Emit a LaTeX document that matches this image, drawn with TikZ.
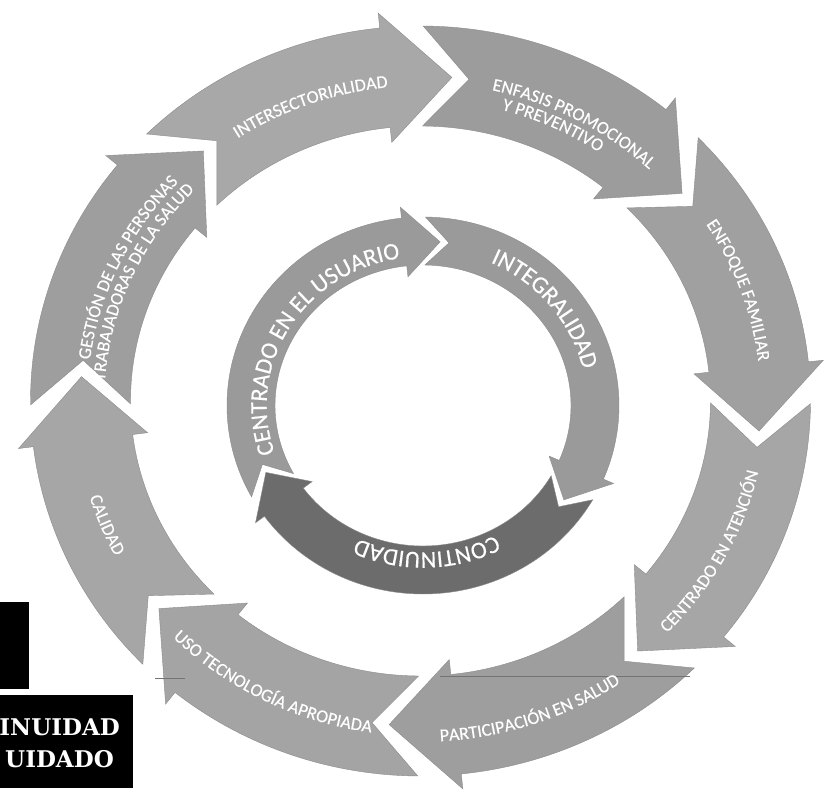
\documentclass[tikz,border=0pt]{standalone}
\usepackage{fontspec}
\setmainfont{Carlito}
\newfontfamily\labfont[FakeBold=0.3]{Carlito}
\newfontfamily\slabfont{DejaVu Serif}
\usetikzlibrary{decorations.text}
\definecolor{gA}{HTML}{A8A8A8}
\definecolor{gB}{HTML}{9C9C9C}
\definecolor{gC}{HTML}{A0A0A0}
\definecolor{gD}{HTML}{A6A6A6}
\definecolor{gE}{HTML}{9E9E9E}
\definecolor{gF}{HTML}{A4A4A4}
\definecolor{gIn}{HTML}{9A9A9A}
\definecolor{gDark}{HTML}{6C6C6C}
\newcommand\opt[2]{({420.5+(340+(#2))*cos(#1)},{405+(325+(#2))*sin(#1)})}
\newcommand\ipt[2]{({423+(172+(#2))*cos(#1)},{400.5+(164.5+(#2))*sin(#1)})}
\newcommand\outerarrow[3]{%
 \pgfmathsetmacro\tA{#1-6.4}%
 \pgfmathsetmacro\tN{#1-14.2}%
 \pgfmathsetmacro\tT{#2-11.3}%
 \filldraw[ringarrow,fill=#3] \opt{\tA}{50} arc[start angle=\tA,end angle=#2,x radius=390,y radius=375]
   -- \opt{#2}{65} -- \opt{\tT}{0} -- \opt{#2}{-65} -- \opt{#2}{-50}
   arc[start angle=#2,end angle=\tA,x radius=290,y radius=275] -- \opt{\tN}{0} -- cycle;}
\newcommand\innerarrow[3]{%
 \pgfmathsetmacro\tA{#1-7}%
 \pgfmathsetmacro\tN{#1-15}%
 \pgfmathsetmacro\tT{#2-12}%
 \filldraw[ringarrow,fill=#3] \ipt{\tA}{24} arc[start angle=\tA,end angle=#2,x radius=196,y radius=188.5]
   -- \ipt{#2}{35} -- \ipt{\tT}{0} -- \ipt{#2}{-35} -- \ipt{#2}{-24}
   arc[start angle=#2,end angle=\tA,x radius=148,y radius=140.5] -- \ipt{\tN}{0} -- cycle;}
% #1 centre angle, #2 text-centre offset, #3 direction (1 = clockwise, -1 = counter-clockwise), #4 text
\newcommand\olabel[4]{%
 \pgfmathsetmacro\lb{#2-#3*5.8}%
 \pgfmathsetmacro\la{#1+#3*45}%
 \pgfmathsetmacro\lc{#1-#3*45}%
 \pgfmathsetmacro\lrx{340+\lb}%
 \pgfmathsetmacro\lry{325+\lb}%
 \path[decorate,decoration={text along path,text align=center,
   text={|\labfont\fontsize{18}{18}\selectfont\color{white}|#4}}]
   ({420.5+\lrx*cos(\la)},{405+\lry*sin(\la)}) arc[start angle=\la,end angle=\lc,x radius=\lrx,y radius=\lry];}
\newcommand\ilabel[3]{%
 \pgfmathsetmacro\lb{#2-7.7}%
 \pgfmathsetmacro\la{#1+80}%
 \pgfmathsetmacro\lc{#1-80}%
 \pgfmathsetmacro\lrx{172+\lb}%
 \pgfmathsetmacro\lry{164.5+\lb}%
 \path[decorate,decoration={text along path,text align=center,
   text={|\labfont\fontsize{24}{24}\selectfont\color{white}|#3}}]
   ({423+\lrx*cos(\la)},{400.5+\lry*sin(\la)}) arc[start angle=\la,end angle=\lc,x radius=\lrx,y radius=\lry];}
\begin{document}
\begin{tikzpicture}[x=1pt,y=1pt,
  ringarrow/.style={draw=black!45,line width=0.4pt},
  blackbox/.style={fill=black,draw=none},
  titletext/.style={text=white,font=\slabfont\bfseries\fontsize{23}{23}\selectfont,inner sep=0pt}]
\useasboundingbox (0,0) rectangle (834,806);
\fill[white] (0,0) rectangle (834,806);
% outer ring
\outerarrow{141}{96}{gA}
\outerarrow{96}{51}{gB}
\outerarrow{51}{6}{gC}
\outerarrow{6}{-39}{gD}
\outerarrow{-39}{-84}{gE}
\outerarrow{-84}{-129}{gF}
\outerarrow{-129}{-173}{gD}
\outerarrow{-173}{-219}{gE}
% scan lines
\draw[black!55,line width=0.5pt] (440,130) -- (690,130);
\draw[black!55,line width=0.5pt] (155,128) -- (185,128);
% inner ring
\innerarrow{216}{96.3}{gIn}
\innerarrow{96.3}{-23}{gIn}
\innerarrow{-23}{-144}{gDark}
% outer labels
\olabel{110}{-4}{1}{INTERSECTORIALIDAD}
\olabel{61.7}{-1}{1}{ENFASIS PROMOCIONAL}
\olabel{64.9}{-18}{1}{Y PREVENTIVO}
\olabel{19.6}{6}{1}{ENFOQUE FAMILIAR}
\olabel{-28}{0}{-1}{CENTRADO EN ATENCIÓN}
\olabel{-71}{10}{-1}{PARTICIPACIÓN EN SALUD}
\olabel{-117}{4}{-1}{USO TECNOLOGÍA APROPIADA}
\olabel{-158}{0}{-1}{CALIDAD}
\olabel{155}{-1}{1}{GESTIÓN DE LAS PERSONAS}
\olabel{156.3}{-18}{1}{TRABAJADORAS DE LA SALUD}
% inner labels
\ilabel{148.9}{-8}{CENTRADO EN EL USUARIO}
\ilabel{38.5}{0}{INTEGRALIDAD}
\ilabel{-88.5}{-10}{CONTINUIDAD}
% black title boxes
\fill[blackbox] (0,117) rectangle (29,204);
\fill[blackbox] (0,18) rectangle (133,111);
\node[titletext,anchor=base east] (t1) at (120,71) {INUIDAD};
\node[titletext,anchor=base east] (t2) at (114,39) {UIDADO};
\end{tikzpicture}
\end{document}
